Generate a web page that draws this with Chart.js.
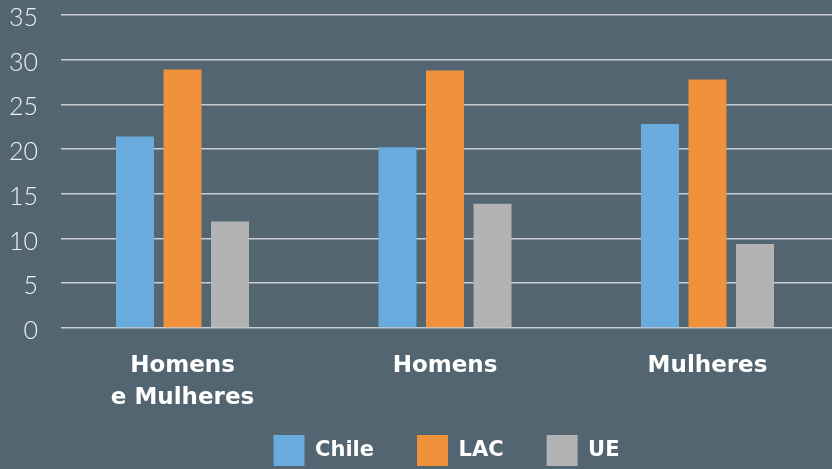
<!DOCTYPE html>
<html>
<head>
<meta charset="utf-8">
<script src="https://cdn.jsdelivr.net/npm/chart.js@4/dist/chart.umd.min.js"></script>
<style>
  html, body { margin: 0; padding: 0; background: #536570; }
  #wrap { width: 832px; height: 469px; position: relative; }
</style>
</head>
<body>
<div id="wrap"><canvas id="c" width="832" height="469"></canvas></div>
<script>
const categories = [['Homens', 'e Mulheres'], 'Homens', 'Mulheres'];
const seriesNames = ['Chile', 'LAC', 'UE'];
const chileValues = [21.4, 20.2, 22.8];
const lacValues = [28.9, 28.8, 27.8];
const ueValues = [11.9, 13.9, 9.4];
const yTicks = [0, 5, 10, 15, 20, 25, 30, 35];

const colors = ['#6aabdd', '#f0913c', '#b3b3b3'];
const seriesValues = [chileValues, lacValues, ueValues];

const bg = {
  id: 'bg',
  beforeDraw(chart) {
    const ctx = chart.ctx;
    ctx.save();
    ctx.fillStyle = '#536570';
    ctx.fillRect(0, 0, chart.width, chart.height);
    ctx.restore();
  }
};

new Chart(document.getElementById('c'), {
  type: 'bar',
  data: {
    datasets: seriesNames.map((name, i) => ({
      label: name,
      data: seriesValues[i].map((v, j) => ({ x: j, y: v })),
      backgroundColor: colors[i],
      borderWidth: 0,
      categoryPercentage: 0.543,
      barPercentage: 0.8
    }))
  },
  options: {
    responsive: false,
    animation: false,
    layout: { padding: { left: 0, right: 0, top: 15, bottom: -7 } },
    plugins: {
      legend: {
        position: 'bottom',
        fullSize: false,
        labels: {
          boxWidth: 31,
          boxHeight: 31,
          padding: 43,
          color: '#ffffff',
          font: { family: "'DejaVu Sans', sans-serif", weight: 'bold', size: 21 }
        }
      },
      tooltip: { enabled: false }
    },
    scales: {
      x: {
        type: 'linear',
        offset: false,
        min: -0.46286,
        max: 2.47429,
        grid: { display: false, drawTicks: false },
        border: { display: false },
        afterBuildTicks: (s) => { s.ticks = categories.map((c, i) => ({ value: i })); },
        afterFit: (s) => { s.height = 64; },
        ticks: {
          autoSkip: false,
          maxRotation: 0,
          mirror: true,
          padding: -54,
          color: '#ffffff',
          font: { family: "'DejaVu Sans', sans-serif", weight: 'bold', size: 23, lineHeight: 1.39 },
          callback: (v) => categories[v]
        }
      },
      y: {
        min: 0,
        max: 35,
        afterFit: (s) => { s.width = 61; s.paddingTop = 0; s.paddingBottom = 0; },
        afterBuildTicks: (s) => { s.ticks = yTicks.map(v => ({ value: v })); },
        grid: { color: '#c8cdd1', lineWidth: 1.6, drawTicks: false },
        border: { display: false },
        ticks: {
          padding: 23,
          labelOffset: 3,
          color: '#eef1f3',
          font: { family: "Lato, 'Open Sans', sans-serif", weight: '300', size: 25 }
        }
      }
    }
  },
  plugins: [bg]
});
</script>
</body>
</html>
